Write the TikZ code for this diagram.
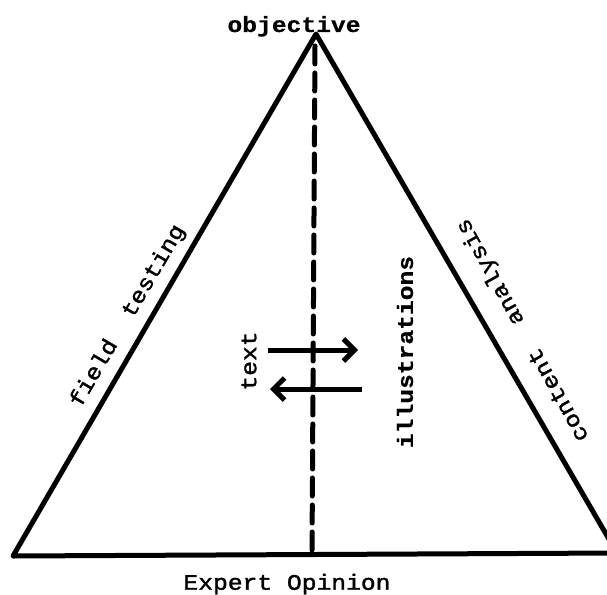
\documentclass[tikz,border=0pt]{standalone}
\usepackage{fontspec}
\usetikzlibrary{arrows.meta}
\newfontfamily\tw[FakeStretch=1.12,FakeBold=1.6]{Liberation Mono}
\newfontfamily\twb[FakeStretch=1.12,FakeBold=0.6]{Liberation Mono Bold}
\begin{document}
\begin{tikzpicture}[x=1pt,y=-1pt,
  side/.style={line width=5pt,line join=round,line cap=round},
  dashline/.style={line width=5pt,dash pattern=on 18pt off 9pt,line cap=round},
  arr/.style={line width=5pt,-{Straight Barb[length=11pt,width=22pt]}},
  lbl/.style={inner sep=0pt,font=\tw\fontsize{22}{24}\selectfont},
  lblb/.style={inner sep=0pt,font=\twb\fontsize{22}{24}\selectfont}]
\useasboundingbox (0,0) rectangle (607,594);
\clip (0,0) rectangle (607,594);
\coordinate (A) at (316,34);
\coordinate (BL) at (13,556);
\coordinate (BR) at (617,553);
\coordinate (Dtop) at (315,46);
\coordinate (Dbot) at (312,553);
\draw[side] (BL) -- (A) -- (BR) -- cycle;
\draw[dashline] (Dtop) -- (Dbot);
\coordinate (R1) at (268,350);
\coordinate (R2) at (358,350);
\coordinate (L1) at (362,389);
\coordinate (L2) at (270,389);
\draw[arr] (R1) -- (R2);
\draw[arr] (L1) -- (L2);
\node[lblb,anchor=base] (obj) at (294,32) {objective};
\node[lbl,rotate=59.7] (ft) at (128,316) {field~~testing};
\node[lbl,rotate=119] (ca) at (523,330) {content~~analysis};
\node[lbl,rotate=90] (tx) at (249,361) {text};
\node[lblb,rotate=90] (il) at (405,352) {illustrations};
\node[lbl] (eo) at (287,584) {Expert Opinion};
\end{tikzpicture}
\end{document}
